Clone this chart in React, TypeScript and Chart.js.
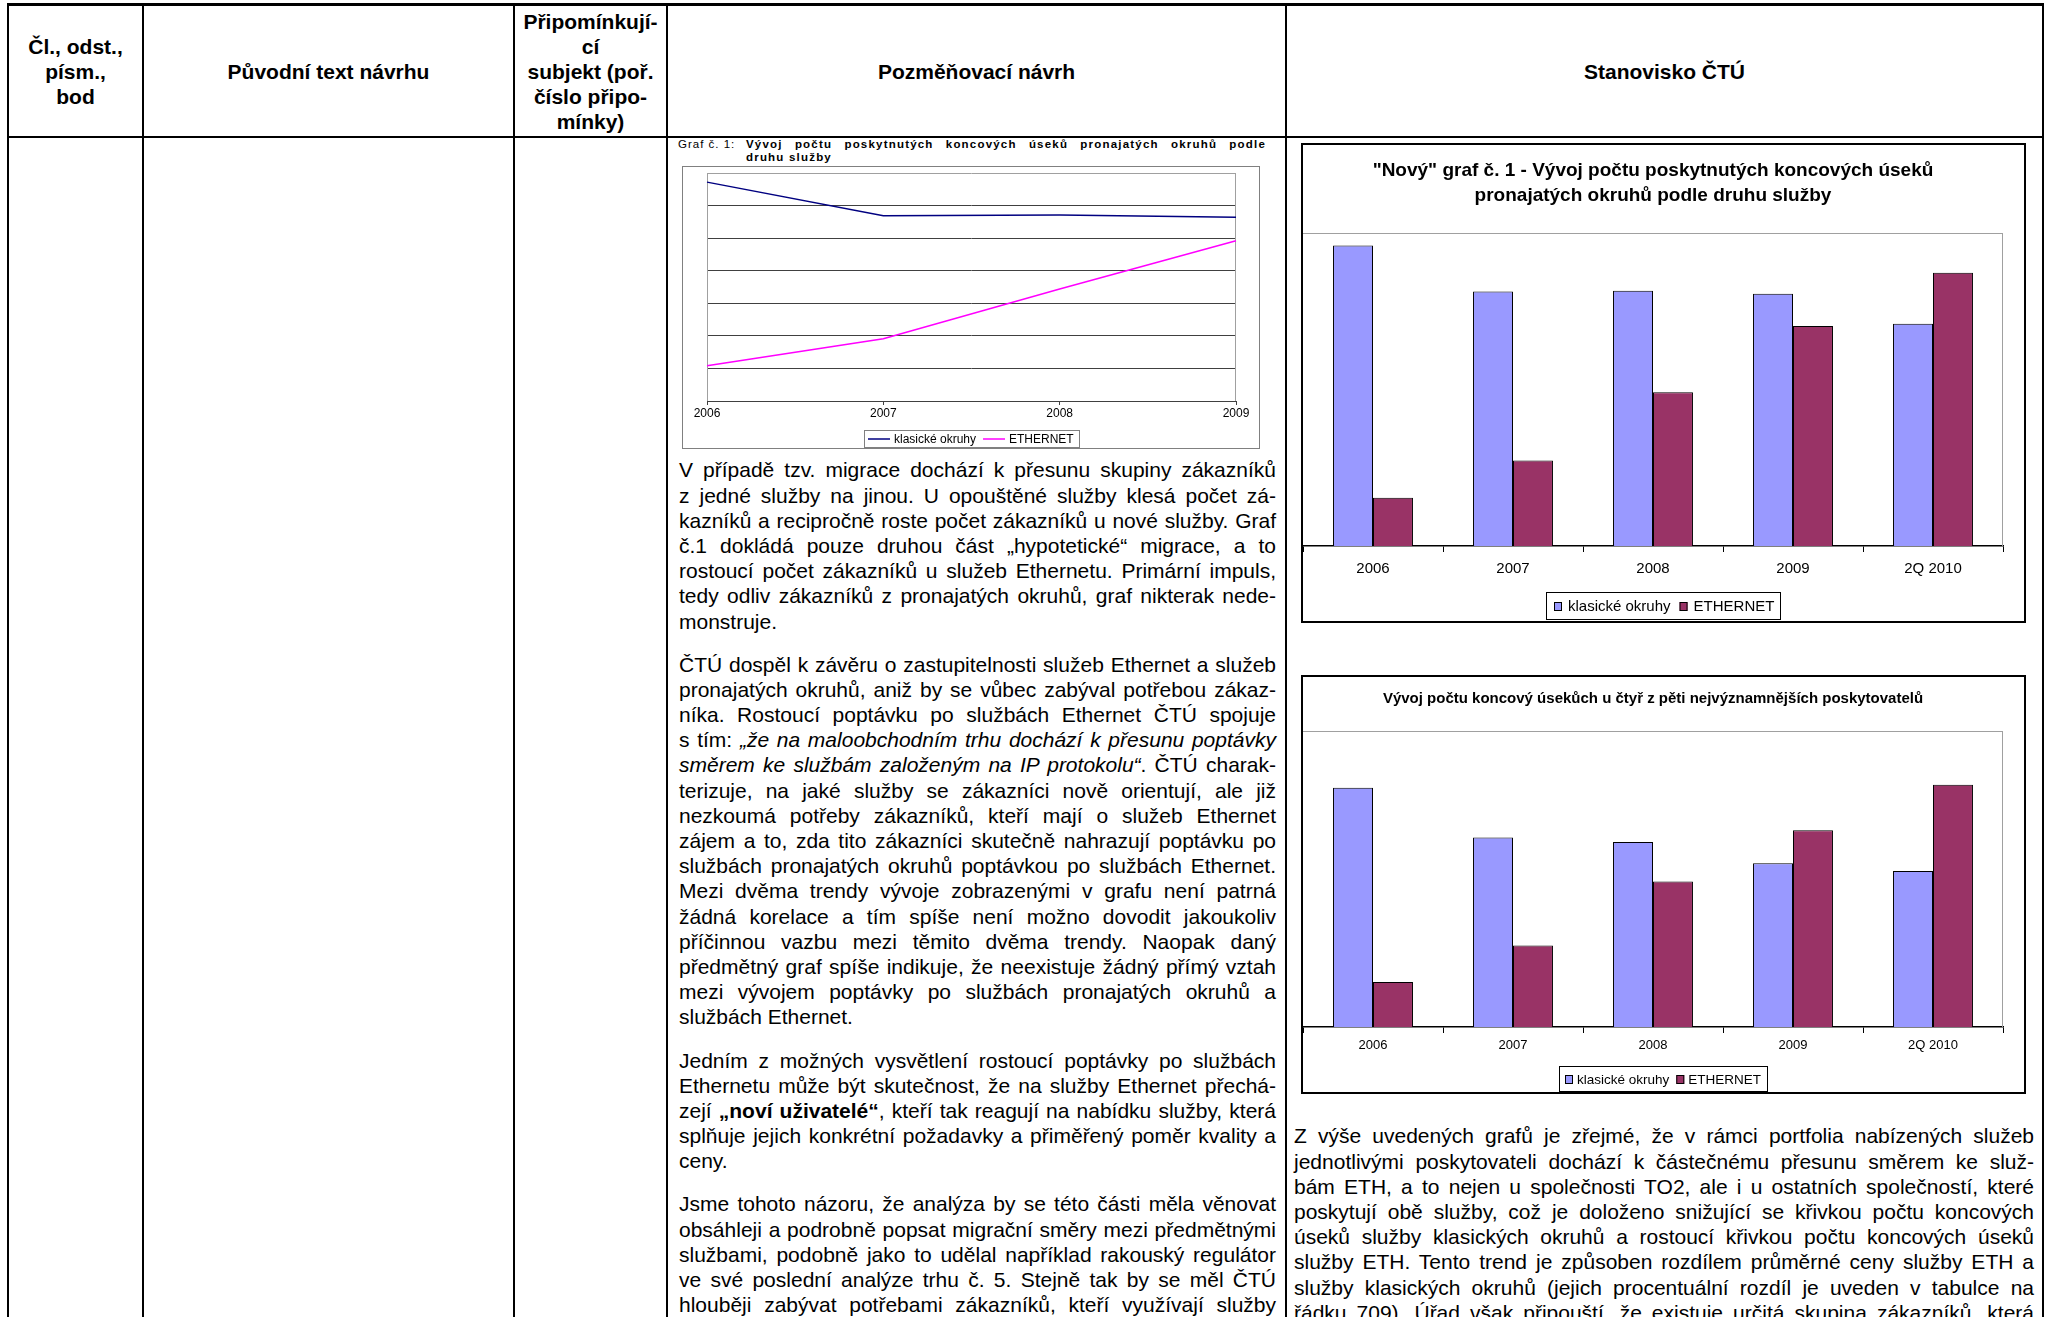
import React, { useEffect, useRef } from 'react';
import { Chart, registerables } from 'chart.js';

Chart.register(...registerables);

const FONT = '"Liberation Sans", Arial, Helvetica, sans-serif';
Chart.defaults.font.family = FONT;
Chart.defaults.color = '#000';

// ---------------- data ----------------
const lineYears = ['2006', '2007', '2008', '2009'];
const lineClassic = [6720, 5690, 5710, 5640];
const lineEthernet = [1080, 1910, 3440, 4920];

const barPeriods = ['2006', '2007', '2008', '2009', '2Q 2010'];
const newClassic = [6720, 5690, 5710, 5640, 4970];
const newEthernet = [1080, 1910, 3440, 4920, 6110];

const topClassic = [4850, 3840, 3750, 3320, 3160];
const topEthernet = [910, 1650, 2950, 3990, 4910];

const seriesNames = ['klasické okruhy', 'ETHERNET'];

const chart1Title = ['"Nový" graf č. 1 - Vývoj počtu poskytnutých koncových úseků', 'pronajatých okruhů podle druhu služby'];
const chart2Title = 'Vývoj počtu koncový úsekůch u čtyř z pěti nejvýznamnějších poskytovatelů';

// ---------------- plugins ----------------
const plotFrame = {
  id: 'plotFrame',
  beforeDatasetsDraw(chart: any, _a: any, o: any) {
    if (!o || !o.sides) return;
    const { ctx, chartArea: a } = chart;
    ctx.save();
    ctx.strokeStyle = o.color;
    ctx.lineWidth = 1;
    ctx.beginPath();
    for (const s of o.sides) {
      if (s === 'top') { ctx.moveTo(a.left, a.top + 0.5); ctx.lineTo(a.right, a.top + 0.5); }
      if (s === 'right') { ctx.moveTo(a.right - 0.5, a.top); ctx.lineTo(a.right - 0.5, a.bottom); }
      if (s === 'left') { ctx.moveTo(a.left + 0.5, a.top); ctx.lineTo(a.left + 0.5, a.bottom); }
    }
    ctx.stroke();
    ctx.restore();
  },
};

const boxLegend = {
  id: 'boxLegend',
  afterDraw(chart: any, _a: any, o: any) {
    if (!o || !o.height) return;
    const { ctx } = chart;
    ctx.save();
    ctx.font = `${o.size}px ${FONT}`;
    const items = chart.data.datasets.map((d: any) => ({
      text: String(d.label),
      fill: o.kind === 'line' ? d.borderColor : d.backgroundColor,
    }));
    const mw = o.kind === 'line' ? o.lineLen : o.boxW;
    const tw = items.map((i: any) => ctx.measureText(i.text).width);
    let total = o.padL + o.padR + o.itemGap * (items.length - 1);
    items.forEach((_i: any, k: number) => { total += mw + o.gap + tw[k]; });
    const x0 = Math.round(chart.width / 2 - total / 2);
    const y0 = o.top;
    ctx.lineWidth = 1;
    ctx.strokeStyle = o.border;
    ctx.strokeRect(x0 + 0.5, y0 + 0.5, Math.round(total), o.height);
    let x = x0 + o.padL;
    const cy = y0 + o.height / 2 + 0.5;
    ctx.textBaseline = 'middle';
    ctx.textAlign = 'left';
    items.forEach((it: any, k: number) => {
      if (o.kind === 'line') {
        ctx.strokeStyle = it.fill;
        ctx.lineWidth = 1.5;
        ctx.beginPath();
        ctx.moveTo(x, cy);
        ctx.lineTo(x + mw, cy);
        ctx.stroke();
      } else {
        const by = Math.round(cy - o.boxH / 2);
        ctx.fillStyle = it.fill;
        ctx.fillRect(x, by, mw, o.boxH);
        ctx.strokeStyle = '#000';
        ctx.lineWidth = 1;
        ctx.strokeRect(x + 0.5, by + 0.5, mw - 1, o.boxH - 1);
      }
      x += mw + o.gap;
      ctx.fillStyle = '#000';
      ctx.fillText(it.text, x, cy + 1);
      x += tw[k] + o.itemGap;
    });
    ctx.restore();
  },
};

// ---------------- chart configs ----------------
function lineConfig(): any {
  return {
    type: 'line',
    data: {
      labels: lineYears,
      datasets: [
        { label: seriesNames[0], data: lineClassic, borderColor: '#000080', backgroundColor: '#000080', borderWidth: 1.5, pointRadius: 0, tension: 0 },
        { label: seriesNames[1], data: lineEthernet, borderColor: '#FF00FF', backgroundColor: '#FF00FF', borderWidth: 1.5, pointRadius: 0, tension: 0 },
      ],
    },
    plugins: [plotFrame, boxLegend],
    options: {
      animation: false,
      responsive: true,
      maintainAspectRatio: false,
      layout: { padding: { left: 24, right: 23, top: 6, bottom: 27 } },
      scales: {
        x: {
          offset: false,
          grid: { drawOnChartArea: false, drawTicks: true, tickLength: 4, color: '#404040' },
          border: { display: true, color: '#404040', width: 1 },
          ticks: { font: { size: 12 }, color: '#000', padding: 1, maxRotation: 0, autoSkip: false },
          afterFit: (s: any) => { s.height = 20; },
        },
        y: {
          min: 0,
          max: 7000,
          ticks: { display: false, stepSize: 1000 },
          grid: {
            drawTicks: false,
            color: (c: any) => (c.tick && c.tick.value === 7000 ? '#a0a0a0' : '#404040'),
            lineWidth: 1,
          },
          border: { display: false },
          afterFit: (s: any) => { s.width = 0; },
        },
      },
      plugins: {
        legend: { display: false },
        tooltip: { enabled: false },
        title: { display: false },
        plotFrame: { sides: ['left', 'right'], color: '#a0a0a0' },
        boxLegend: { kind: 'line', size: 12, top: 263, height: 17, padL: 4, padR: 5, lineLen: 22, gap: 4, itemGap: 7, border: '#808080' },
      },
    },
  };
}

function barConfig(p: any): any {
  return {
    type: 'bar',
    data: {
      labels: barPeriods,
      datasets: [
        { label: seriesNames[0], data: p.classic, backgroundColor: '#9999FF', borderColor: '#000', borderWidth: 1, categoryPercentage: 0.571, barPercentage: 1 },
        { label: seriesNames[1], data: p.ethernet, backgroundColor: '#993366', borderColor: '#000', borderWidth: 1, categoryPercentage: 0.571, barPercentage: 1 },
      ],
    },
    plugins: [plotFrame, boxLegend],
    options: {
      animation: false,
      responsive: true,
      maintainAspectRatio: false,
      layout: { padding: { left: 0, right: 21, top: 0, bottom: p.padBottom } },
      scales: {
        x: {
          grid: { offset: true, drawOnChartArea: false, drawTicks: true, tickLength: 6, color: '#000' },
          border: { display: true, color: '#000', width: 1.5 },
          ticks: { font: { size: p.tickSize }, color: '#000', padding: p.tickPad, maxRotation: 0, autoSkip: false },
          afterFit: (s: any) => { s.height = p.xHeight; },
        },
        y: { display: false, min: 0, max: p.max },
      },
      plugins: {
        legend: { display: false },
        tooltip: { enabled: false },
        title: {
          display: true,
          text: p.title,
          color: '#000',
          font: { size: p.titleSize, weight: 'bold', lineHeight: p.titleLH },
          padding: { top: p.titlePadTop, bottom: p.titlePadBottom },
        },
        plotFrame: { sides: ['top', 'right'], color: '#a0a0a0' },
        boxLegend: { kind: 'box', size: p.legendSize, top: p.legendTop, height: p.legendHeight, padL: p.lpadL, padR: p.lpadR, boxW: 8, boxH: 9, gap: p.lgap, itemGap: p.litemGap, border: '#000' },
      },
    },
  };
}

function ChartBox(props: { config: () => any; left: number; top: number; width: number; height: number; border: string; bw: number }) {
  const ref = useRef<HTMLCanvasElement>(null);
  useEffect(() => {
    const chart = new Chart(ref.current as HTMLCanvasElement, props.config());
    return () => chart.destroy();
  }, []);
  const { left, top, width, height, border, bw } = props;
  return (
    <div style={{ position: 'absolute', left, top, width, height, border: `${bw}px solid ${border}`, boxSizing: 'border-box', background: '#fff' }}>
      <div style={{ position: 'absolute', left: 0, top: 0, width: width - 2 * bw, height: height - 2 * bw }}>
        <canvas ref={ref} />
      </div>
    </div>
  );
}

// ---------------- text helpers ----------------
const LH = 25.2;
const J = ({ children }: { children: any }) => (
  <div style={{ textAlign: 'justify', textAlignLast: 'justify', height: LH }}>{children}</div>
);
const Lx = ({ children }: { children: any }) => <div style={{ textAlign: 'left', height: LH }}>{children}</div>;
const Para = ({ children, gap }: { children: any; gap: number }) => <div style={{ marginBottom: gap }}>{children}</div>;

const I = ({ children }: { children: any }) => <span style={{ fontStyle: 'italic' }}>{children}</span>;
const B = ({ children }: { children: any }) => <span style={{ fontWeight: 'bold' }}>{children}</span>;

const vLines = [7, 142, 513, 666, 1285, 2042];

export default function App() {
  const headerStyle: any = {
    position: 'absolute', top: 6, height: 130, display: 'flex', alignItems: 'center', justifyContent: 'center',
    textAlign: 'center', fontWeight: 'bold', fontSize: 21, lineHeight: '25px', fontFamily: FONT, color: '#000',
  };
  return (
    <div style={{ position: 'fixed', left: 0, top: 0, width: 2049, height: 1317, overflow: 'hidden', background: '#fff', fontFamily: FONT, color: '#000' }}>
      {/* table lines */}
      <div style={{ position: 'absolute', left: 7, top: 3, width: 2037, height: 3, background: '#000' }} />
      <div style={{ position: 'absolute', left: 7, top: 136, width: 2037, height: 2, background: '#000' }} />
      {vLines.map((x) => (
        <div key={x} style={{ position: 'absolute', left: x, top: 3, width: 2, height: 1320, background: '#000' }} />
      ))}

      {/* header */}
      <div style={{ ...headerStyle, left: 9, width: 133 }}>
        <div>Čl., odst.,<br />písm.,<br />bod</div>
      </div>
      <div style={{ ...headerStyle, left: 144, width: 369 }}>
        <div>Původní text návrhu</div>
      </div>
      <div style={{ ...headerStyle, left: 515, width: 151 }}>
        <div>Připomínkují-<br />cí<br />subjekt (poř.<br />číslo připo-<br />mínky)</div>
      </div>
      <div style={{ ...headerStyle, left: 668, width: 617 }}>
        <div>Pozměňovací návrh</div>
      </div>
      <div style={{ ...headerStyle, left: 1287, width: 755 }}>
        <div>Stanovisko ČTÚ</div>
      </div>

      {/* caption of the small line chart */}
      <div style={{ position: 'absolute', left: 678, top: 138, width: 588, fontSize: 11.5, lineHeight: '13.3px', display: 'flex' }}>
        <div style={{ width: 68, letterSpacing: 1, whiteSpace: 'nowrap' }}>Graf č. 1:</div>
        <div style={{ flex: 1, fontWeight: 'bold', letterSpacing: 1.2 }}>
          <div style={{ textAlign: 'justify', textAlignLast: 'justify' }}>Vývoj počtu poskytnutých koncových úseků pronajatých okruhů podle</div>
          <div>druhu služby</div>
        </div>
      </div>

      <ChartBox config={lineConfig} left={682} top={166} width={578} height={283} border="#808080" bw={1} />

      {/* middle column text */}
      <div style={{ position: 'absolute', left: 679, top: 457.4, width: 597, fontSize: 21, lineHeight: `${LH}px` }}>
        <Para gap={18}>
          <J>V případě tzv. migrace dochází k přesunu skupiny zákazníků</J>
          <J>z jedné služby na jinou. U opouštěné služby klesá počet zá-</J>
          <J>kazníků a recipročně roste počet zákazníků u nové služby. Graf</J>
          <J>č.1 dokládá pouze druhou část „hypotetické“ migrace, a to</J>
          <J>rostoucí počet zákazníků u služeb Ethernetu. Primární impuls,</J>
          <J>tedy odliv zákazníků z pronajatých okruhů, graf nikterak nede-</J>
          <Lx>monstruje.</Lx>
        </Para>
        <Para gap={18}>
          <J>ČTÚ dospěl k závěru o zastupitelnosti služeb Ethernet a služeb</J>
          <J>pronajatých okruhů, aniž by se vůbec zabýval potřebou zákaz-</J>
          <J>níka. Rostoucí poptávku po službách Ethernet ČTÚ spojuje</J>
          <J>s tím: <I>„že na maloobchodním trhu dochází k přesunu poptávky</I></J>
          <J><I>směrem ke službám založeným na IP protokolu“</I>. ČTÚ charak-</J>
          <J>terizuje, na jaké služby se zákazníci nově orientují, ale již</J>
          <J>nezkoumá potřeby zákazníků, kteří mají o služeb Ethernet</J>
          <J>zájem a to, zda tito zákazníci skutečně nahrazují poptávku po</J>
          <J>službách pronajatých okruhů poptávkou po službách Ethernet.</J>
          <J>Mezi dvěma trendy vývoje zobrazenými v grafu není patrná</J>
          <J>žádná korelace a tím spíše není možno dovodit jakoukoliv</J>
          <J>příčinnou vazbu mezi těmito dvěma trendy. Naopak daný</J>
          <J>předmětný graf spíše indikuje, že neexistuje žádný přímý vztah</J>
          <J>mezi vývojem poptávky po službách pronajatých okruhů a</J>
          <Lx>službách Ethernet.</Lx>
        </Para>
        <Para gap={18}>
          <J>Jedním z možných vysvětlení rostoucí poptávky po službách</J>
          <J>Ethernetu může být skutečnost, že na služby Ethernet přechá-</J>
          <J>zejí <B>„noví uživatelé“</B>, kteří tak reagují na nabídku služby, která</J>
          <J>splňuje jejich konkrétní požadavky a přiměřený poměr kvality a</J>
          <Lx>ceny.</Lx>
        </Para>
        <Para gap={18}>
          <J>Jsme tohoto názoru, že analýza by se této části měla věnovat</J>
          <J>obsáhleji a podrobně popsat migrační směry mezi předmětnými</J>
          <J>službami, podobně jako to udělal například rakouský regulátor</J>
          <J>ve své poslední analýze trhu č. 5. Stejně tak by se měl ČTÚ</J>
          <J>hlouběji zabývat potřebami zákazníků, kteří využívají služby</J>
        </Para>
      </div>

      {/* right column charts */}
      <ChartBox
        config={() => barConfig({
          classic: newClassic, ethernet: newEthernet, max: 7000, title: chart1Title, titleSize: 19, titleLH: 25 / 19,
          titlePadTop: 13.5, titlePadBottom: 24.5, padBottom: 35, xHeight: 40, tickSize: 15, tickPad: 8,
          legendSize: 15, legendTop: 447, legendHeight: 27, lpadL: 8, lpadR: 6, lgap: 6, litemGap: 9,
        })}
        left={1301} top={143} width={725} height={480} border="#000" bw={2}
      />
      <ChartBox
        config={() => barConfig({
          classic: topClassic, ethernet: topEthernet, max: 6000, title: chart2Title, titleSize: 15, titleLH: 1.2,
          titlePadTop: 13, titlePadBottom: 23, padBottom: 30, xHeight: 35, tickSize: 13, tickPad: 5,
          legendSize: 13.5, legendTop: 389, legendHeight: 25, lpadL: 6, lpadR: 6, lgap: 4, litemGap: 7,
        })}
        left={1301} top={675} width={725} height={419} border="#000" bw={2}
      />

      {/* right column text */}
      <div style={{ position: 'absolute', left: 1294, top: 1123.4, width: 740, fontSize: 21, lineHeight: `${LH}px` }}>
        <J>Z výše uvedených grafů je zřejmé, že v rámci portfolia nabízených služeb</J>
        <J>jednotlivými poskytovateli dochází k částečnému přesunu směrem ke služ-</J>
        <J>bám ETH, a to nejen u společnosti TO2, ale i u ostatních společností, které</J>
        <J>poskytují obě služby, což je doloženo snižující se křivkou počtu koncových</J>
        <J>úseků služby klasických okruhů a rostoucí křivkou počtu koncových úseků</J>
        <J>služby ETH. Tento trend je způsoben rozdílem průměrné ceny služby ETH a</J>
        <J>služby klasických okruhů (jejich procentuální rozdíl je uveden v tabulce na</J>
        <J>řádku 709). Úřad však připouští, že existuje určitá skupina zákazníků, která</J>
      </div>
    </div>
  );
}
